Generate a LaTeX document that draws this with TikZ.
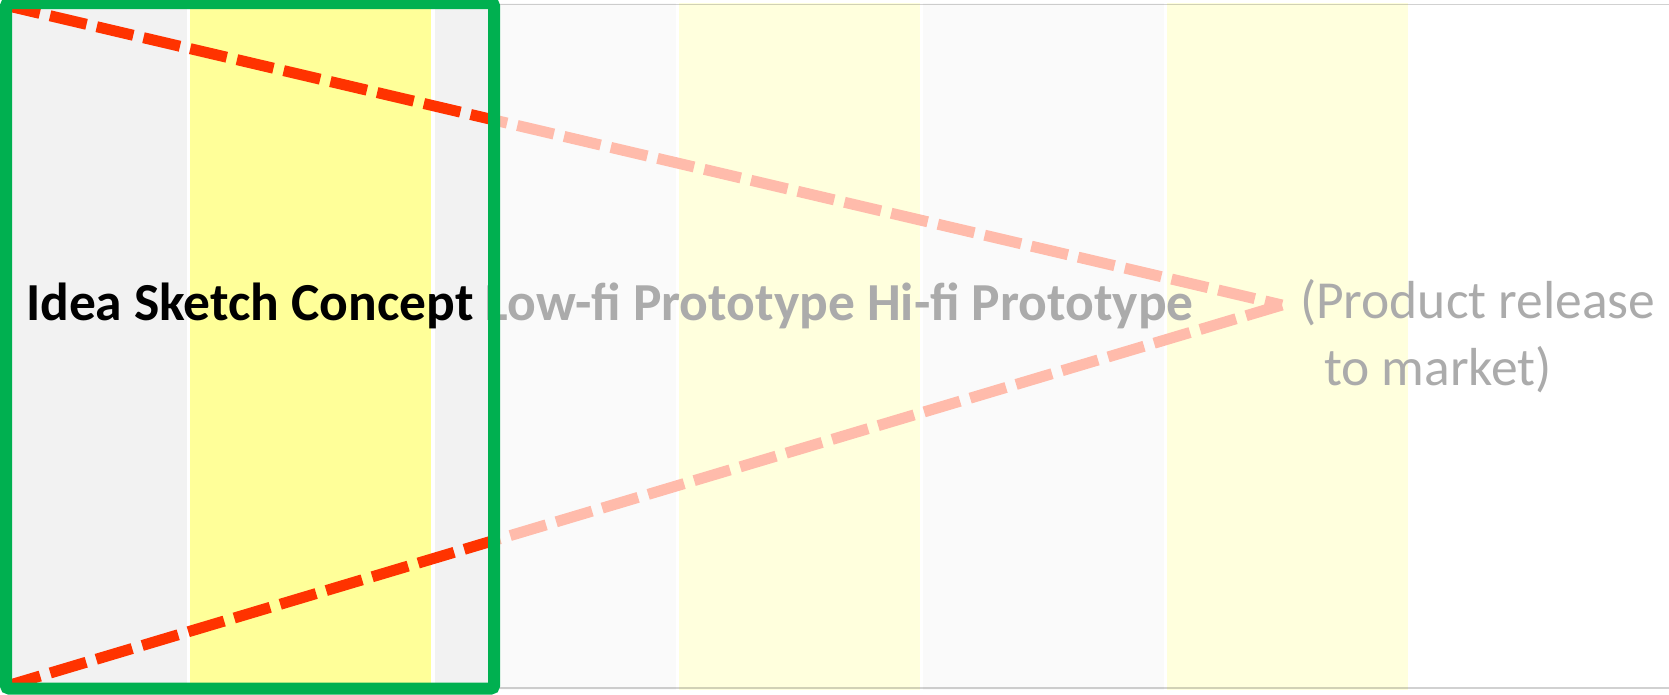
\documentclass[tikz,border=0pt]{standalone}
\usepackage{fontspec}
\setmainfont{Carlito}
\definecolor{colgray}{HTML}{F2F2F2}
\definecolor{colyel}{HTML}{FFFF99}
\definecolor{redline}{HTML}{FF3300}
\definecolor{greenbox}{HTML}{00B050}
\begin{document}
\begin{tikzpicture}[x=1pt,y=-1pt,
  graycol/.style={fill=colgray},
  yelcol/.style={fill=colyel},
  dashline/.style={redline,line width=11pt,dash pattern=on 37.5pt off 10.5pt},
  lbl/.style={inner sep=0pt,outer sep=0pt,anchor=base west,font=\fontsize{53.5}{64}\selectfont},
  fade/.style={fill=white,opacity=0.67},
  rule/.style={draw=black,opacity=0.18,line width=1.5pt},
  frame/.style={draw=greenbox,line width=12pt,rounded corners=3pt}]
\useasboundingbox (0,0) rectangle (1669,694);
\fill[white] (0,0) rectangle (1669,694);
% columns
\path[graycol] (0,3) rectangle (187,690);
\path[yelcol] (190,3) rectangle (431,690);
\path[graycol] (435,3) rectangle (676,690);
\path[yelcol] (679,3) rectangle (920,690);
\path[graycol] (923,3) rectangle (1164,690);
\path[yelcol] (1167,3) rectangle (1408,690);
% dashed lines
\coordinate (tl) at (0,4);
\coordinate (apex) at (1282,305);
\coordinate (bl) at (0,688);
\draw[dashline,dash phase=44.6pt] (tl) -- (apex);
\draw[dashline] (apex) -- (bl);
% texts
\node[lbl,font=\bfseries\fontsize{53.5}{64}\selectfont] (stages) at (26,320) {Idea Sketch Concept Low-fi Prototype Hi-fi Prototype};
\node[lbl] (release1) at (1300,318) {(Product release};
\node[lbl] (release2) at (1324,385) {to market)};
% fading overlay right of the frame
\fill[fade] (494,0) rectangle (1669,694);
\path[rule] (494,4.3) -- (1669,4.3);
\path[rule] (494,688) -- (1669,688);
% green frame
\path[frame] (6,3) rectangle (494,688.5);
\end{tikzpicture}
\end{document}
